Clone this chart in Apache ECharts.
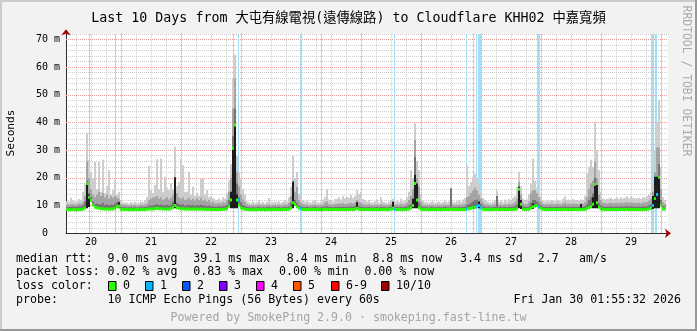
<!DOCTYPE html>
<html>
<head>
<meta charset="utf-8">
<script src="https://cdn.jsdelivr.net/npm/echarts@6/dist/echarts.min.js"></script>
<style>
html,body{margin:0;padding:0;background:#f2f2f2;}
#chart{width:697px;height:331px;}
</style>
</head>
<body>
<div id="chart"></div>
<script>
// ---------------- data ----------------
const TITLE = 'Last 10 Days from 大屯有線電視(遠傳線路) to Cloudflare KHH02 中嘉寬頻';
const dayLabels = ['20','21','22','23','24','25','26','27','28','29'];
// time in hours after Jan 20 00:00; one sample every 0.8 h
const T_START = 1.92;
const T_END = 241.92;
const SAMPLE_H = 0.8;
const LOSS_H = 0.4;

const median = [
  8.6,8.5,8.5,8.6,8.5,8.5,8.6,8.6,8.7,9.0,18.0,13.0,11.8,10.2,9.4,
  9.2,9.0,8.9,8.9,8.8,8.8,8.7,8.8,8.8,9.0,9.6,9.8,8.7,8.6,8.6,
  8.6,8.5,8.6,8.5,8.6,8.6,8.5,8.6,8.6,8.6,8.7,8.8,8.8,8.8,8.9,
  9.0,8.9,8.9,8.8,8.8,8.8,8.8,8.9,9.2,10.0,9.2,9.0,8.9,8.9,8.8,
  8.8,8.8,8.7,8.8,8.7,8.8,8.7,8.8,8.7,8.7,8.6,8.7,8.6,8.6,8.6,
  8.6,8.6,8.6,8.7,8.7,8.9,9.8,12.0,30.7,39.1,12.0,10.2,9.2,8.9,8.7,
  8.6,8.6,8.5,8.6,8.5,8.6,8.6,8.5,8.6,8.5,8.6,8.6,8.5,8.6,8.6,
  8.6,8.6,8.5,8.6,8.6,8.6,8.7,9.0,11.0,10.4,9.6,9.0,8.8,8.6,8.6,
  8.6,8.6,8.5,8.6,8.6,8.6,8.5,8.6,8.6,8.7,8.7,8.6,8.6,8.6,8.6,
  8.6,8.6,8.6,8.6,8.6,8.6,8.6,8.7,8.6,8.7,9.0,8.7,8.6,8.6,8.6,
  8.6,8.6,8.6,8.5,8.6,8.6,8.5,8.6,8.6,8.6,8.5,8.6,8.7,9.0,8.6,
  8.6,8.6,8.6,8.6,8.6,8.7,8.8,9.0,10.0,18.0,12.0,9.2,8.8,8.6,8.6,
  8.6,8.5,8.6,8.6,8.5,8.6,8.6,8.5,8.6,8.6,8.6,8.6,8.8,8.6,8.6,
  8.6,8.6,8.6,8.6,8.6,8.8,8.9,9.0,9.2,9.3,9.6,10.0,9.2,8.7,8.6,
  8.6,8.6,8.5,8.6,8.6,8.7,8.6,8.6,8.6,8.6,8.6,8.6,8.6,8.6,8.7,
  8.9,15.9,10.5,8.8,8.6,8.6,8.7,9.0,9.6,9.8,10.0,9.6,9.0,8.7,8.6,
  8.6,8.6,8.6,8.6,8.6,8.6,8.6,8.6,8.6,8.7,8.6,8.6,8.6,8.6,8.6,
  8.6,8.6,8.7,8.6,8.7,8.9,9.2,9.6,10.5,17.7,11.0,9.4,8.9,8.7,8.6,
  8.6,8.6,8.6,8.6,8.6,8.6,8.6,8.6,8.6,8.6,8.7,8.6,8.6,8.6,8.6,
  8.6,8.6,8.6,8.6,8.6,8.7,8.8,9.0,10.0,12.6,14.0,20.2,10.2,8.8,8.8
];
// top of the dark grey smoke band
const smokeDark = [
  9.6,9.5,9.6,9.7,9.5,9.6,9.8,9.7,10.0,11.5,18.6,14.5,13.0,11.5,10.5,
  10.8,10.5,10.4,11.0,10.2,10.5,10.0,10.4,10.2,10.8,11.4,11.4,9.6,9.4,9.4,
  9.3,9.3,9.4,9.3,9.4,9.3,9.3,9.4,9.4,9.5,9.6,10.0,9.9,10.0,10.3,
  10.5,10.2,10.4,10.0,10.2,10.3,10.0,10.3,11.5,14.0,11.0,10.6,10.3,10.5,10.0,
  10.1,10.3,10.0,10.2,9.9,10.2,10.0,10.3,10.0,10.1,9.8,10.0,9.7,9.8,9.6,
  9.6,9.7,9.6,9.8,9.8,10.2,12.0,15.0,35.0,45.0,18.0,13.0,11.2,10.2,9.8,
  9.5,9.4,9.3,9.4,9.3,9.4,9.5,9.3,9.4,9.3,9.4,9.5,9.3,9.4,9.4,
  9.4,9.5,9.3,9.4,9.5,9.4,9.7,11.0,14.0,12.0,11.0,10.0,9.7,9.5,9.4,
  9.5,9.4,9.3,9.4,9.5,9.4,9.3,9.4,9.5,9.7,9.8,9.5,9.5,9.4,9.5,
  9.5,9.6,9.5,9.6,9.5,9.5,9.6,9.7,9.6,9.8,10.4,9.8,9.6,9.5,9.4,
  9.4,9.5,9.4,9.3,9.4,9.5,9.3,9.5,9.4,9.4,9.3,9.4,9.6,10.2,9.4,
  9.5,9.4,9.5,9.4,9.5,9.7,10.0,10.6,12.5,27.6,16.0,11.0,9.8,9.5,9.4,
  9.4,9.3,9.4,9.4,9.3,9.4,9.4,9.3,9.4,9.5,9.4,9.4,16.2,9.4,9.4,
  9.4,9.5,9.4,9.5,9.5,10.2,10.5,11.0,11.5,12.0,12.2,11.6,10.6,9.8,9.5,
  9.4,9.4,9.3,9.4,9.5,13.5,9.4,9.5,9.4,9.5,9.4,9.5,9.5,9.6,9.8,
  10.4,16.8,12.0,9.8,9.5,9.5,9.8,11.0,12.0,12.0,11.5,10.8,10.0,9.6,9.5,
  9.5,9.5,9.6,9.5,9.5,9.6,9.5,9.5,9.6,9.8,9.5,9.6,9.5,9.6,9.5,
  9.5,9.5,9.8,9.5,9.8,10.5,12.0,13.0,14.4,20.0,15.0,11.0,10.0,9.7,9.6,
  9.6,9.6,9.7,9.6,9.6,9.7,9.6,9.7,9.6,9.7,9.8,9.6,9.7,9.7,9.6,
  9.6,9.7,9.6,9.7,9.7,9.8,10.0,10.6,13.5,16.0,20.4,25.0,12.0,9.8,9.6
];
// top of the medium grey smoke band
const smokeMid = [
  10.4,10.3,10.5,10.6,10.3,10.5,10.8,10.6,11.2,13.5,26.0,20.0,16.0,14.0,13.0,
  14.0,15.0,13.5,14.5,13.0,14.0,12.5,13.5,12.8,13.5,13.0,12.5,10.6,10.2,10.3,
  10.1,10.0,10.2,10.1,10.2,10.0,10.1,10.3,10.2,10.4,10.8,12.0,12.5,12.8,13.0,
  13.5,12.5,13.0,12.0,12.5,13.0,12.2,12.8,14.0,20.0,14.5,13.0,12.5,13.0,12.0,
  12.3,12.8,12.0,12.5,11.8,12.6,12.0,12.8,11.8,12.2,11.5,12.0,11.0,11.4,10.8,
  10.8,11.0,10.7,11.2,11.0,12.0,15.0,20.0,45.0,56.0,22.0,17.0,14.0,12.2,11.3,
  10.4,10.2,10.0,10.3,10.0,10.2,10.5,10.1,10.2,10.0,10.3,10.4,10.1,10.2,10.3,
  10.2,10.4,10.1,10.3,10.4,10.3,11.0,13.5,19.0,15.0,16.8,12.0,11.0,10.5,10.3,
  10.4,10.2,10.1,10.3,10.4,10.2,10.1,10.3,10.5,11.0,11.5,10.6,10.5,10.3,10.6,
  10.6,10.8,10.7,10.9,10.6,10.8,10.8,11.0,10.8,11.2,12.0,11.4,11.0,10.6,10.4,
  10.3,10.5,10.2,10.1,10.3,10.4,10.1,10.6,10.3,10.2,10.1,10.3,10.6,11.2,10.3,
  10.4,10.3,10.6,10.3,10.5,11.0,12.0,13.5,16.0,33.7,20.0,16.8,11.5,10.4,10.2,
  10.2,10.1,10.2,10.3,10.0,10.2,10.3,10.1,10.2,10.4,10.2,10.3,16.2,10.3,10.2,
  10.3,10.4,10.3,10.5,10.6,13.0,13.5,14.5,15.5,16.5,15.5,14.0,12.5,11.0,10.5,
  10.3,10.2,10.1,10.3,10.5,13.5,10.3,10.4,10.2,10.5,10.3,10.6,10.5,10.8,11.2,
  12.5,18.5,14.0,11.0,10.5,10.6,11.5,14.5,15.6,15.6,14.5,13.0,11.6,10.6,10.4,
  10.5,10.4,10.6,10.5,10.4,10.7,10.5,10.4,10.8,11.2,10.6,10.7,10.5,10.8,10.6,
  10.6,10.5,10.8,10.6,11.2,13.0,16.0,18.0,19.0,25.8,20.0,14.0,12.0,11.0,10.8,
  10.8,10.9,11.0,10.8,10.9,11.0,10.8,11.1,10.9,11.0,11.3,10.9,11.2,11.0,10.9,
  10.9,11.0,10.8,11.1,11.0,11.3,11.8,12.5,15.0,22.0,31.0,31.0,16.0,11.2,10.6
];
// top of the light grey smoke (slowest ping)
const smokeMax = [
  11.6,11.4,12.8,11.8,11.5,11.6,12.4,11.9,15.0,18.0,36.3,26.5,22.0,20.0,25.8,
  16.0,25.8,15.0,26.5,14.5,17.0,22.8,14.0,15.5,19.2,14.0,15.0,11.8,11.2,11.0,
  11.0,10.8,11.2,10.9,11.4,10.8,11.0,11.6,11.2,12.0,13.0,24.4,15.5,14.5,17.4,
  26.7,16.0,27.0,15.0,20.4,16.5,15.5,18.0,16.0,31.3,17.0,18.5,27.0,24.6,15.0,
  15.0,22.2,14.0,16.8,13.5,14.5,13.5,19.8,19.8,14.0,15.6,13.0,13.5,12.8,12.2,
  12.0,12.6,11.8,13.0,12.5,14.5,19.0,25.0,56.0,64.4,28.0,22.0,20.0,16.0,14.0,
  11.6,11.2,10.8,11.5,10.9,11.2,12.0,11.0,11.3,10.8,11.4,12.7,11.0,11.2,11.5,
  11.2,11.6,10.9,11.4,12.0,11.5,13.0,16.8,27.9,20.0,21.9,14.4,13.0,12.0,11.4,
  11.8,11.3,11.0,11.6,12.0,11.2,11.0,11.4,12.2,13.0,15.9,12.2,11.8,11.5,12.4,
  12.5,13.0,12.2,13.5,12.6,13.2,12.8,13.8,12.8,13.5,15.6,14.2,15.0,12.4,12.0,
  11.4,12.0,11.2,11.0,11.6,12.2,11.0,13.0,11.4,11.2,10.9,11.5,12.0,12.5,11.4,
  11.8,11.4,12.6,11.5,12.0,13.0,15.0,22.8,20.0,39.7,26.0,22.8,14.0,11.8,11.2,
  11.2,11.0,11.4,11.6,10.9,11.2,11.4,11.0,11.3,11.8,11.2,11.5,16.5,11.4,11.2,
  11.6,12.0,11.4,12.2,12.8,24.6,17.0,18.5,20.4,21.5,20.0,18.0,15.0,12.7,12.0,
  11.5,11.2,11.0,11.4,12.0,15.4,11.4,11.8,11.2,12.2,11.5,12.4,12.0,12.8,13.5,
  16.8,22.2,17.0,12.6,12.0,12.2,14.0,18.0,27.0,19.0,16.5,15.0,13.2,11.8,11.4,
  11.8,11.6,12.0,11.8,11.6,12.2,11.8,11.5,12.4,13.4,12.0,12.2,11.8,12.4,12.0,
  12.0,11.8,12.2,12.0,13.5,21.7,24.0,26.5,24.0,40.3,30.0,22.8,15.0,12.6,12.2,
  12.4,12.6,12.8,12.3,12.6,12.9,12.4,13.0,12.6,12.8,13.4,12.6,13.3,12.8,12.6,
  12.6,12.8,12.4,13.0,12.8,13.5,14.0,15.0,18.0,30.0,40.3,48.0,24.0,13.0,12.0
];
// darkest smoke core at spikes: [sample number, low, high]
const smokeCore = [
  [10,9.0,18.6],[11,9.5,14.0],[26,9.0,11.2],[54,9.0,20.2],[82,9.0,15.0],
  [83,9.0,31.0],[84,9.0,39.5],[85,9.0,14.0],[113,9.0,18.6],[145,8.8,11.2],
  [163,8.6,11.4],[173,9.0,12.5],[174,9.0,21.0],[175,9.0,18.0],[206,9.0,11.4],
  [226,9.0,16.8],[227,8.8,12.0],[233,8.8,10.8],[257,8.6,10.6],[263,9.0,13.0],
  [264,9.0,17.4],[265,9.0,17.4],[293,8.8,13.5],[294,9.0,20.4],[295,9.0,20.4],
  [296,9.0,20.4]
];
// packet loss periods (hours after Jan 20 00:00) and lost pings per round
const lossHours = [11.12,21.52,68.72,70.72,95.52,103.92,133.12,161.92,164.72,165.92,
  166.72,167.12,167.52,190.32,190.72,191.12,215.92,235.92,236.32,236.72,237.52,237.92,239.92];
const lossCount = [1,1,1,1,1,1,1,1,1,1,1,1,1,1,1,1,1,1,1,1,1,1,1];

const rttStats = ['9.0','39.1','8.4','8.8','3.4','2.7'];
const lossStats = ['0.02','0.83','0.00','0.00'];
const lossLegendLabels = ['0','1','2','3','4','5','6-9','10/10'];
const lossLegendColors = ['#26ff00','#00b8ff','#0059ff','#7e00ff','#ff00ff','#ff5500','#ff0000','#a10000'];
const probeText = '10 ICMP Echo Pings (56 Bytes) every 60s';
const stampText = 'Fri Jan 30 01:55:32 2026';
const footerText = 'Powered by SmokePing 2.9.0 \u00b7 smokeping.fast-line.tw';

// ---------------- build ----------------
[median, smokeDark, smokeMid, smokeMax].forEach(a => { if (a.length !== 300) throw new Error('len ' + a.length); });

const MONO = "'DejaVu Sans Mono', 'Noto Sans CJK TC', monospace";
const sampleT = i => T_START + i * SAMPLE_H;
const smokeRows = median.map((m, i) => [sampleT(i), m, smokeDark[i], smokeMid[i], smokeMax[i]]);
const coreRows = smokeCore.map(c => [sampleT(c[0]), c[1], c[2]]);
const medianRows = median.map((m, i) => [sampleT(i), m]);
const lossRows = lossHours.map((t, k) => [t, lossCount[k]]);
const lossMedianRows = lossHours.map((t, k) => [t, median[Math.min(299, Math.floor((t - T_START) / SAMPLE_H))], lossCount[k]]);

const SMOKE_COL = ['#cdcdcd', '#a4a4a4', '#747474'];
const CORE_COL = '#1d1d1d';
const LOSS_BG = '#a6dcf4';

function smokeItem(params, api) {
  const t = api.value(0);
  const xa = api.coord([t, 0])[0], xb = api.coord([t + SAMPLE_H, 0])[0];
  const ym = api.coord([t, api.value(1)])[1];
  const kids = [[4, SMOKE_COL[0]], [3, SMOKE_COL[1]], [2, SMOKE_COL[2]]].map(([k, c]) => {
    const yt = api.coord([t, api.value(k)])[1];
    return { type: 'rect', shape: { x: xa, y: Math.min(yt, ym), width: xb - xa, height: Math.abs(ym - yt) }, style: { fill: c } };
  });
  return { type: 'group', children: kids };
}
function coreItem(params, api) {
  const t = api.value(0);
  const xa = api.coord([t, 0])[0], xb = api.coord([t + SAMPLE_H, 0])[0];
  const y1 = api.coord([t, api.value(1)])[1], y2 = api.coord([t, api.value(2)])[1];
  return { type: 'rect', shape: { x: xa, y: y2, width: xb - xa, height: y1 - y2 }, style: { fill: CORE_COL } };
}
function medianItem(params, api) {
  const t = api.value(0);
  const xa = api.coord([t, 0])[0], xb = api.coord([t + SAMPLE_H, 0])[0];
  const ym = api.coord([t, api.value(1)])[1];
  return { type: 'rect', shape: { x: xa, y: ym - 1.5, width: xb - xa, height: 3 }, style: { fill: lossLegendColors[0] } };
}
function lossBarItem(params, api) {
  const t = api.value(0);
  const xa = api.coord([t, 0])[0], xb = api.coord([t + LOSS_H, 0])[0];
  const cs = params.coordSys;
  return { type: 'rect', shape: { x: xa, y: cs.y, width: xb - xa, height: cs.height }, style: { fill: LOSS_BG } };
}
function lossMedianItem(params, api) {
  const t = api.value(0);
  const xa = api.coord([t, 0])[0], xb = api.coord([t + LOSS_H, 0])[0];
  const ym = api.coord([t, api.value(1)])[1];
  return { type: 'rect', shape: { x: xa, y: ym - 1.5, width: xb - xa, height: 3 }, style: { fill: lossLegendColors[api.value(2)] } };
}

const GRID_TOP = 33.8, GRID_H = 199.5;
const minorLine = { color: '#cdcdcd', type: [1, 1], width: 1 };
const majorLine = { color: '#eb9a9a', type: [1, 1], width: 1 };

const gText = (x, y, text, extra) => Object.assign({
  type: 'text', x: x, y: y, silent: true,
  style: Object.assign({ text: text, font: '11.6px ' + MONO, fill: '#000', align: 'left', verticalAlign: 'middle', textAlign: 'left', textVerticalAlign: 'middle' }, extra || {})
});

const graphics = [
  { type: 'rect', shape: { x: 0, y: 0, width: 697, height: 2 }, style: { fill: '#cbcbcb' }, silent: true },
  { type: 'rect', shape: { x: 0, y: 0, width: 2, height: 331 }, style: { fill: '#cbcbcb' }, silent: true },
  { type: 'rect', shape: { x: 0, y: 329, width: 697, height: 2 }, style: { fill: '#999999' }, silent: true },
  { type: 'rect', shape: { x: 695, y: 0, width: 2, height: 331 }, style: { fill: '#999999' }, silent: true },
  Object.assign(gText(686, 81, 'RRDTOOL / TOBI OETIKER', { fill: '#ababab', align: 'center', textAlign: 'center', font: '11.4px ' + MONO }), { rotation: -Math.PI / 2 }),
  Object.assign(gText(11, 133, 'Seconds', { align: 'center', textAlign: 'center', font: '11.2px ' + MONO }), { rotation: Math.PI / 2 }),
  // line 1
  gText(16, 258.5, 'median rtt:'),
  gText(107.6, 258.5, rttStats[0] + ' ms avg'),
  gText(193.3, 258.5, rttStats[1] + ' ms max'),
  gText(286.7, 258.5, rttStats[2] + ' ms min'),
  gText(372.4, 258.5, rttStats[3] + ' ms now'),
  gText(460, 258.5, rttStats[4] + ' ms sd'),
  gText(537.8, 258.5, rttStats[5]),
  gText(579, 258.5, 'am/s'),
  // line 2
  gText(16, 272, 'packet loss:'),
  gText(107.6, 272, lossStats[0] + ' % avg'),
  gText(193.3, 272, lossStats[1] + ' % max'),
  gText(279, 272, lossStats[2] + ' % min'),
  gText(364.4, 272, lossStats[3] + ' % now'),
  // line 3
  gText(16, 286, 'loss color:'),
  // line 4
  gText(16, 299.5, 'probe:'),
  gText(107.6, 299.5, probeText),
  gText(681, 299.5, stampText, { align: 'right', textAlign: 'right' }),
  // footer
  gText(348.5, 317.5, footerText, { align: 'center', textAlign: 'center', fill: '#a4a4a4' })
];
const boxX = [108.5, 145.5, 182.5, 219.5, 256.5, 293.5, 331.5, 381.5];
lossLegendLabels.forEach((lab, k) => {
  graphics.push({ type: 'rect', silent: true, shape: { x: boxX[k], y: 281.5, width: 7.5, height: 9 }, style: { fill: lossLegendColors[k], stroke: '#000', lineWidth: 1 } });
  graphics.push(gText(boxX[k] + 14.5, 286, lab));
});

const option = {
  animation: false,
  backgroundColor: '#f2f2f2',
  title: { text: TITLE, left: 'center', top: 7, textStyle: { fontFamily: MONO, fontSize: 13.3, fontWeight: 'normal', color: '#000' } },
  grid: [
    { left: 66, top: GRID_TOP, width: 602, height: GRID_H, show: true, backgroundColor: '#ffffff', borderWidth: 0 },
    { left: 61, top: GRID_TOP, width: 600, height: GRID_H, show: false }
  ],
  xAxis: [
    { gridIndex: 0, type: 'value', min: T_START, max: T_START + 602 / 2.5, position: 'bottom',
      axisLine: { show: true, onZero: false, lineStyle: { color: '#2e2e2e', width: 1 } },
      axisTick: { show: false }, axisLabel: { show: false }, splitLine: { show: false } },
    { gridIndex: 0, type: 'value', min: T_START, max: T_START + 602 / 2.5, position: 'bottom', offset: 0,
      axisLine: { show: true, onZero: false, symbol: ['none', 'arrow'], symbolSize: [7, 6], symbolOffset: [0, 3], lineStyle: { color: '#a00000', width: 0 } },
      axisTick: { show: false }, axisLabel: { show: false }, splitLine: { show: false } },
    { gridIndex: 1, type: 'value', min: 0, max: 240, interval: 6, position: 'bottom',
      axisLine: { show: false }, axisTick: { show: false },
      axisLabel: { fontFamily: MONO, fontSize: 10, color: '#000', margin: 4,
        formatter: v => (v % 24 === 12 ? dayLabels[(v - 12) / 24] : '') },
      splitLine: { show: true, showMinLine: false, lineStyle: minorLine }, z: 0 },
    { gridIndex: 1, type: 'value', min: 0, max: 240, interval: 24, position: 'bottom', offset: 0,
      axisLine: { show: false }, axisTick: { show: false }, axisLabel: { show: false },
      splitLine: { show: true, showMinLine: false, lineStyle: majorLine }, z: 0.5 }
  ],
  yAxis: [
    { gridIndex: 0, type: 'value', min: 0, max: 72, interval: 2, position: 'left',
      axisLine: { show: true, onZero: false, lineStyle: { color: '#2e2e2e', width: 1 } },
      axisTick: { show: false }, axisLabel: { show: false },
      splitLine: { show: true, showMinLine: false, lineStyle: minorLine }, z: 0 },
    { gridIndex: 0, type: 'value', min: 0, max: 72, interval: 10, position: 'left', offset: 0,
      axisLine: { show: true, onZero: false, symbol: ['none', 'arrow'], symbolSize: [7, 6], symbolOffset: [0, 4.5], lineStyle: { color: '#a00000', width: 0 } },
      axisTick: { show: false },
      axisLabel: { fontFamily: MONO, fontSize: 10, color: '#000', margin: 6,
        formatter: v => (v % 10 === 0 ? (v === 0 ? '0\u00a0\u00a0' : v + ' m') : '') },
      splitLine: { show: true, showMinLine: false, showMaxLine: false, lineStyle: majorLine }, z: 0.5 },
    { gridIndex: 1, type: 'value', min: 0, max: 72, show: false }
  ],
  series: [
    { type: 'custom', name: 'loss', xAxisIndex: 0, yAxisIndex: 0, data: lossRows, renderItem: lossBarItem, clip: true, silent: true, z: 1 },
    { type: 'custom', name: 'smoke', xAxisIndex: 0, yAxisIndex: 0, data: smokeRows, renderItem: smokeItem, clip: true, silent: true, z: 2 },
    { type: 'custom', name: 'core', xAxisIndex: 0, yAxisIndex: 0, data: coreRows, renderItem: coreItem, clip: true, silent: true, z: 3 },
    { type: 'custom', name: 'median', xAxisIndex: 0, yAxisIndex: 0, data: medianRows, renderItem: medianItem, clip: true, silent: true, z: 4 },
    { type: 'custom', name: 'lossMedian', xAxisIndex: 0, yAxisIndex: 0, data: lossMedianRows, renderItem: lossMedianItem, clip: true, silent: true, z: 5 }
  ],
  graphic: graphics
};

const chart = echarts.init(document.getElementById('chart'), null, { renderer: 'canvas' });
chart.setOption(option);
</script>
</body>
</html>
